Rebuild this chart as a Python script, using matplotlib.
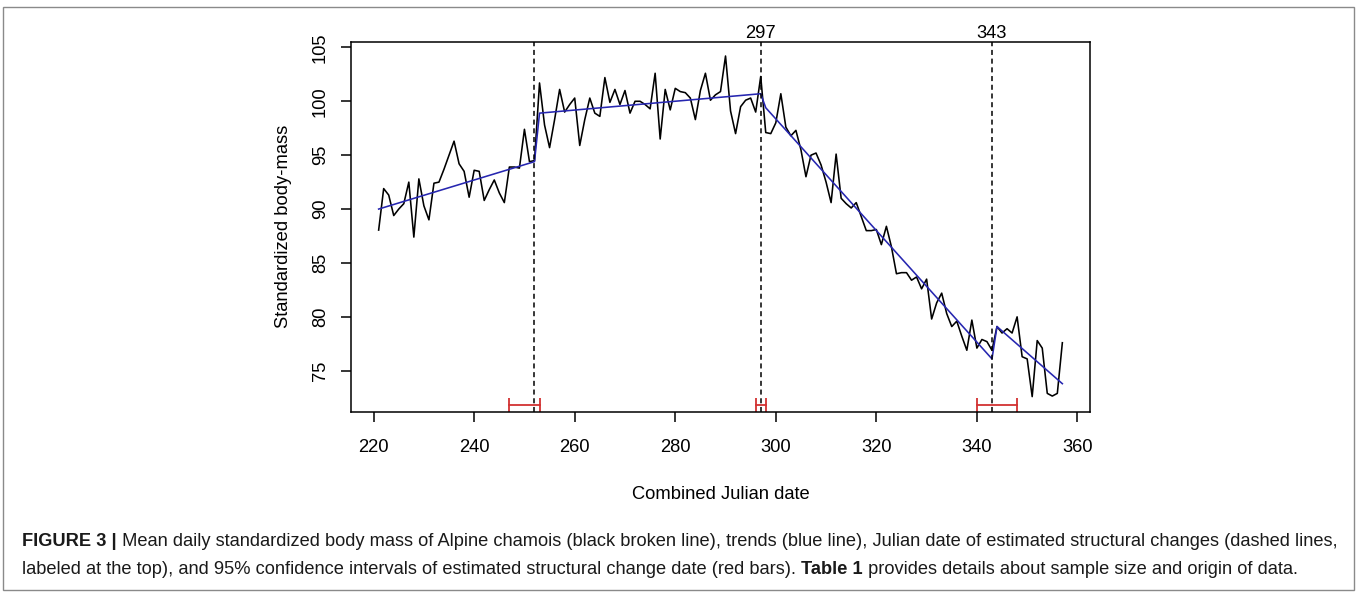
import matplotlib
matplotlib.use("Agg")
from matplotlib import pyplot as plt
from matplotlib.patches import Rectangle
from matplotlib.transforms import blended_transform_factory

plt.rcParams['font.family'] = ['Liberation Sans', 'DejaVu Sans']

# mean daily standardized body mass, days 221..357
days = list(range(221, 358))
body_mass = [
    88.05, 91.9, 91.3, 89.4, 90.0, 90.5, 92.5, 87.4, 92.8, 90.3,
    89.0, 92.4, 92.5, 93.7, 95.0, 96.3, 94.2, 93.5, 91.1, 93.6,
    93.5, 90.8, 91.8, 92.7, 91.5, 90.6, 93.9, 93.9, 93.8, 97.4,
    94.4, 94.5, 101.7, 97.8, 95.7, 98.3, 101.1, 99.0, 99.7, 100.3,
    95.9, 98.3, 100.3, 98.9, 98.6, 102.2, 99.9, 101.1, 99.7, 101.0,
    98.9, 100.0, 100.0, 99.7, 99.3, 102.6, 96.5, 101.1, 99.2, 101.2,
    100.9, 100.8, 100.3, 98.3, 101.0, 102.6, 100.1, 100.6, 100.9, 104.2,
    99.1, 97.0, 99.5, 100.1, 100.3, 99.0, 102.3, 97.1, 97.0, 98.0,
    100.7, 97.6, 96.8, 97.3, 95.5, 93.0, 95.0, 95.2, 94.1, 92.5,
    90.6, 95.1, 91.0, 90.5, 90.1, 90.6, 89.3, 88.0, 88.0, 88.1,
    86.7, 88.4, 86.5, 84.0, 84.1, 84.1, 83.4, 83.7, 82.6, 83.5,
    79.8, 81.3, 82.2, 80.3, 79.1, 79.6, 78.2, 76.9, 79.7, 77.1,
    77.9, 77.7, 76.9, 79.1, 78.5, 78.9, 78.5, 80.0, 76.3, 76.1,
    72.6, 77.8, 77.1, 72.9, 72.65, 72.9, 77.6,
]

# segment trends (start / end of each fitted segment)
trend_days = [221, 252, 253, 297, 298, 343, 344, 357]
trend_mass = [90.0, 94.4, 98.9, 100.7, 99.4, 76.1, 79.1, 73.8]

# structural changes and their 95% confidence intervals
breaks = [252, 297, 343]
break_labels = ['', '297', '343']
ci_low = [247, 296, 340]
ci_high = [253, 298, 348]
ci_level = 71.82

x_ticks = [220, 240, 260, 280, 300, 320, 340, 360]
y_ticks = [75, 80, 85, 90, 95, 100, 105]

W, H = 1357, 592
fig = plt.figure(figsize=(W / 100, H / 100), dpi=100)
ax = fig.add_axes([351 / W, 1 - 411.7 / H, (1090 - 351) / W, (411.7 - 42) / H])

ax.plot(days, body_mass, color='black', lw=1.15)
ax.plot(trend_days, trend_mass, color='#2626b0', lw=1.15)

for b in breaks:
    ax.axvline(b, color='black', lw=1.1, ls=(0, (3.3, 2.4)))

trans = blended_transform_factory(ax.transData, ax.transAxes)
for b, lab in zip(breaks, break_labels):
    if lab:
        ax.text(b, 1.0, lab, transform=trans, ha='center', va='bottom', fontsize=13.2)

red = '#d23232'
for lo, hi in zip(ci_low, ci_high):
    ax.plot([lo, hi], [ci_level, ci_level], color=red, lw=1.3,
            marker='|', ms=9.5, mew=1.3)

ax.set_xlim(215.5, 362.5)
ax.set_ylim(71.2, 105.5)
ax.set_xticks(x_ticks)
ax.set_yticks(y_ticks)
ax.tick_params(axis='both', direction='out', length=7, width=1.1, labelsize=13.2)
ax.tick_params(axis='x', pad=13)
ax.tick_params(axis='y', pad=9, labelrotation=90)
for lab in ax.get_yticklabels():
    lab.set_va('center')
for s in ax.spines.values():
    s.set_linewidth(1.1)

ax.set_xlabel('Combined Julian date', fontsize=13.2, labelpad=21)
ax.set_ylabel('Standardized body-mass', fontsize=13.2, labelpad=14)

# outer frame
fig.patches.append(Rectangle((3 / W, 2 / H), (W - 6) / W, (H - 9) / H,
                             transform=fig.transFigure, fill=False,
                             edgecolor='#8a8a8a', lw=1.0))

# caption with bold pieces
caption = [
    [('FIGURE 3 |', 'bold'),
     (' Mean daily standardized body mass of Alpine chamois (black broken line), trends (blue line), '
      'Julian date of estimated structural changes (dashed lines,', 'normal')],
    [('labeled at the top), and 95% confidence intervals of estimated structural change date (red bars). ', 'normal'),
     ('Table 1', 'bold'),
     (' provides details about sample size and origin of data.', 'normal')],
]
caption_y = [541, 569]

renderer = fig.canvas.get_renderer()
for line, ypx in zip(caption, caption_y):
    xpx = 22
    for txt, weight in line:
        t = fig.text(xpx / W, 1 - ypx / H, txt, fontsize=13.15, fontweight=weight,
                     ha='left', va='center', color='#1a1a1a')
        xpx += t.get_window_extent(renderer).width

fig.savefig('out.png', dpi=100)
